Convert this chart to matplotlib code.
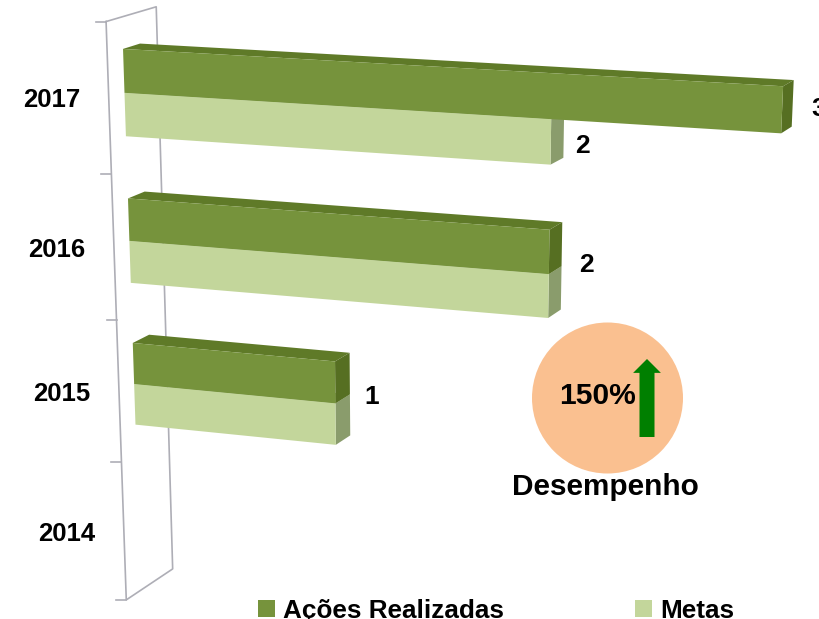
#!/usr/bin/env python3

import numpy as np
import matplotlib as mpl
import matplotlib.pyplot as plt
from matplotlib.patches import Circle, Polygon, Rectangle

mpl.rc('font', family=['Liberation Sans', 'DejaVu Sans'], weight='bold')

years = ["2014", "2015", "2016", "2017"]
acoes = [0, 1, 2, 3]
metas = [0, 1, 2, 2]
series_names = ["Ações Realizadas", "Metas"]
desempenho = "150%"

DARK = {"front": "#76933c", "top": "#5f7a28", "side": "#566f22"}
LIGHT = {"front": "#c3d69b", "top": "#a9bd82", "side": "#8a9c6c"}
BAR_H = 0.29
D_FRONT, D_BACK = 0.31, 0.65

# the original is a tilted 3d chart, so fit a camera: (value, slot, depth) -> pixels
calib = [
    ((0, 4, 0), (107, 20)), ((0, 0, 0), (127, 600)),
    ((0, 4, 1), (155.7, 7)), ((0, 0, 1), (172, 568)),
    ((3, 3.5, D_FRONT), (783, 133)), ((3, 3.79, D_FRONT), (780, 87)),
    ((3, 3.79, D_BACK), (794, 81)), ((3, 3.5, D_BACK), (793, 127)),
    ((2, 3.21, D_FRONT), (550, 163)), ((2, 3.21, D_BACK), (563, 157)),
    ((2, 2.79, D_FRONT), (549, 230)), ((2, 2.5, D_FRONT), (549, 273)),
    ((2, 2.21, D_FRONT), (549, 318)), ((2, 2.79, D_BACK), (562, 223)),
    ((2, 2.5, D_BACK), (562, 267)), ((2, 2.21, D_BACK), (561, 308)),
    ((1, 1.79, D_FRONT), (333, 362)), ((1, 1.5, D_FRONT), (335, 403)),
    ((1, 1.21, D_FRONT), (336, 445)), ((1, 1.79, D_BACK), (350, 353)),
    ((1, 1.5, D_BACK), (350, 395)), ((1, 1.21, D_BACK), (351, 435)),
    ((0, 3.79, D_FRONT), (123, 50)), ((0, 3.5, D_FRONT), (125, 93)),
    ((0, 3.21, D_FRONT), (126, 135)), ((0, 2.79, D_FRONT), (128, 200)),
    ((0, 2.5, D_FRONT), (129, 241)), ((0, 2.21, D_FRONT), (130, 283)),
    ((0, 1.79, D_FRONT), (133, 343)), ((0, 1.5, D_FRONT), (134, 385)),
    ((0, 1.21, D_FRONT), (135, 425)), ((0, 3.79, D_BACK), (140, 43)),
    ((0, 2.79, D_BACK), (145, 192)), ((0, 1.79, D_BACK), (150, 334)),
]

rows = []
for (v, s, d), (px, py) in calib:
    rows.append([v, s, d, 1, 0, 0, 0, 0, -px * v, -px * s, -px * d, -px])
    rows.append([0, 0, 0, 0, v, s, d, 1, -py * v, -py * s, -py * d, -py])
P = np.linalg.svd(np.array(rows, dtype=float))[2][-1].reshape(3, 4)


def project(v, s, d):
    x, y, w = P @ np.array([v, s, d, 1.0])
    return x / w, y / w


def draw_bar(ax, s0, s1, value, shades, z):
    if value == 0:
        return
    top = [project(0, s1, D_FRONT), project(0, s1, D_BACK),
           project(value, s1, D_BACK), project(value, s1, D_FRONT)]
    side = [project(value, s0, D_FRONT), project(value, s1, D_FRONT),
            project(value, s1, D_BACK), project(value, s0, D_BACK)]
    front = [project(0, s0, D_FRONT), project(0, s1, D_FRONT),
             project(value, s1, D_FRONT), project(value, s0, D_FRONT)]
    ax.add_patch(Polygon(top, fc=shades["top"], ec="none", zorder=z))
    ax.add_patch(Polygon(side, fc=shades["side"], ec="none", zorder=z))
    ax.add_patch(Polygon(front, fc=shades["front"], ec="none", zorder=z + 0.1))


fig = plt.figure(figsize=(8.2, 6.19), dpi=100)
ax = fig.add_axes([0, 0, 1, 1])
ax.set_xlim(0, 820)
ax.set_ylim(619, 0)
ax.axis("off")

# axis walls
axis_c = "#aeaeb6"
box = [project(0, 4, 0), project(0, 4, 1), project(0, 0, 1), project(0, 0, 0), project(0, 4, 0)]
ax.plot(*zip(*box), color=axis_c, lw=1.2, zorder=1)
for s in range(len(years) + 1):
    x, y = project(0, s, 0)
    ax.plot([x - 10, x], [y, y], color=axis_c, lw=1.2, zorder=1)

for i, year in enumerate(years):
    # light bar first, the dark one sits on top of it
    draw_bar(ax, i + 0.5 - BAR_H, i + 0.5, metas[i], LIGHT, 2)
    draw_bar(ax, i + 0.5, i + 0.5 + BAR_H, acoes[i], DARK, 3)
    x, y = project(0, i + 0.5, 0)
    ax.text(x - 57, y + 2, year, fontsize=18.5, ha="center", va="center")

# data labels
label_pos = [(372, 397), (586, 265), (582, 146), (819, 109)]
label_vals = [acoes[1], acoes[2], metas[3], acoes[3]]
for (x, y), val in zip(label_pos, label_vals):
    ax.text(x, y, str(val), fontsize=19, ha="center", va="center")

# desempenho badge
ax.add_patch(Circle((607.5, 398), 75.5, fc="#fac090", ec="none", zorder=4))
ax.annotate("", xy=(647, 359), xytext=(647, 437), zorder=5,
            arrowprops=dict(width=10.8, headwidth=20, headlength=10, fc="#007f00", ec="#007f00",
                            lw=0, shrinkA=0, shrinkB=0))
ax.text(598, 396, desempenho, fontsize=21.6, ha="center", va="center", zorder=6)
ax.text(605.5, 487, "Desempenho", fontsize=21.4, ha="center", va="center", zorder=6)

# legend
for name, shades, x0 in zip(series_names, [DARK, LIGHT], [258, 635]):
    ax.add_patch(Rectangle((x0, 600), 17, 17, fc=shades["front"], ec="none"))
    ax.text(x0 + 25, 618, name, fontsize=18.8, ha="left", va="baseline")

fig.savefig("out.png", dpi=100)
